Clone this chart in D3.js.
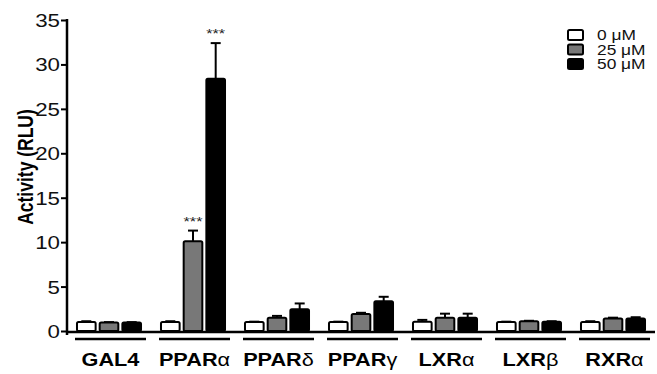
<!DOCTYPE html>
<html>
<head>
<meta charset="utf-8">
<script src="https://cdn.jsdelivr.net/npm/d3@7"></script>
<style>
  body { margin: 0; background: #fff; }
  svg { display: block; font-family: "Liberation Sans", Arial, sans-serif; }
</style>
</head>
<body>
<script>
// receptor groups (name + greek suffix)
const receptors = ["GAL4", "PPAR", "PPAR", "PPAR", "LXR", "LXR", "RXR"];
const greek = ["", "\u03b1", "\u03b4", "\u03b3", "\u03b1", "\u03b2", "\u03b1"];
const doses = ["0 \u03bcM", "25 \u03bcM", "50 \u03bcM"];

// mean activity (RLU) per dose
const mean0  = [1.0, 1.0, 1.0, 1.0, 1.05, 1.0, 1.0];
const mean25 = [0.95, 10.1, 1.5, 1.9, 1.5, 1.1, 1.4];
const mean50 = [0.95, 28.4, 2.45, 3.35, 1.5, 1.05, 1.4];
// error (upper) per dose
const err0  = [0.1, 0.1, 0.05, 0.05, 0.2, 0.05, 0.1];
const err25 = [0.05, 1.2, 0.2, 0.15, 0.45, 0.05, 0.1];
const err50 = [0.05, 4.0, 0.65, 0.5, 0.45, 0.05, 0.15];
// significance marks
const sig25 = ["", "***", "", "", "", "", ""];
const sig50 = ["", "***", "", "", "", "", ""];

const yTicks = [0, 5, 10, 15, 20, 25, 30, 35];

const W = 657, H = 374;
const sx = 1.24; // the figure is stretched horizontally
const fills = ["#ffffff", "#787878", "#000000"];

const svg = d3.select("body").append("svg")
  .attr("width", W).attr("height", H);

const yScale = d3.scaleLinear().domain([0, 35]).range([331, 20]);
const xGroup = d3.scaleBand()
  .domain(d3.range(receptors.length))
  .range([67, 655])
  .paddingInner(0.214)
  .paddingOuter(0.107);
const xDose = d3.scaleBand()
  .domain(d3.range(doses.length))
  .range([0, xGroup.bandwidth()])
  .paddingInner(0.09);

const means = [mean0, mean25, mean50];
const errs = [err0, err25, err50];
const sigs = [null, sig25, sig50];

const rows = [];
receptors.forEach((r, i) => {
  doses.forEach((d, j) => {
    rows.push({ g: i, dose: j, v: means[j][i], e: errs[j][i], s: sigs[j] ? sigs[j][i] : "" });
  });
});

// error bars
const eb = svg.append("g").attr("stroke", "#000").attr("stroke-width", 2);
rows.forEach(d => {
  const cx = xGroup(d.g) + xDose(d.dose) + xDose.bandwidth() / 2;
  eb.append("line").attr("x1", cx).attr("x2", cx)
    .attr("y1", yScale(d.v)).attr("y2", yScale(d.v + d.e));
  eb.append("line").attr("x1", cx - 5).attr("x2", cx + 5)
    .attr("y1", yScale(d.v + d.e)).attr("y2", yScale(d.v + d.e));
});

// bars
svg.append("g").selectAll("rect")
  .data(rows)
  .enter().append("rect")
  .attr("x", d => xGroup(d.g) + xDose(d.dose) + 1)
  .attr("y", d => yScale(d.v))
  .attr("width", xDose.bandwidth() - 2)
  .attr("height", d => yScale(0) - yScale(d.v))
  .attr("rx", 1.5)
  .attr("fill", d => fills[d.dose])
  .attr("stroke", "#000")
  .attr("stroke-width", 2);

// significance stars
rows.filter(d => d.s).forEach(d => {
  const cx = xGroup(d.g) + xDose(d.dose) + xDose.bandwidth() / 2;
  svg.append("text")
    .attr("transform", `translate(${cx},${yScale(d.v + d.e) - 5}) scale(${sx},1)`)
    .attr("text-anchor", "middle")
    .attr("font-size", 13)
    .attr("fill", "#222")
    .text(d.s);
});

// y axis
const yAxis = svg.append("g")
  .attr("transform", "translate(67,0)")
  .call(d3.axisLeft(yScale).tickValues(yTicks).tickSize(6).tickPadding(0));
yAxis.select(".domain").remove();
yAxis.selectAll(".tick line").attr("stroke-width", 2);
yAxis.selectAll(".tick text")
  .attr("x", -7 / sx)
  .attr("dy", "0.36em")
  .attr("transform", `scale(${sx},1)`)
  .attr("font-size", 18)
  .attr("font-family", "Liberation Sans, Arial, sans-serif")
  .attr("fill", "#111");
svg.append("line")
  .attr("x1", 67).attr("x2", 67)
  .attr("y1", yScale(35) - 1).attr("y2", 335)
  .attr("stroke", "#000").attr("stroke-width", 2.5);

// x axis baseline
svg.append("line")
  .attr("x1", 66).attr("x2", 655)
  .attr("y1", yScale(0) + 1).attr("y2", yScale(0) + 1)
  .attr("stroke", "#000").attr("stroke-width", 2.5);

// group underlines and labels
receptors.forEach((r, i) => {
  const c = xGroup(i) + xGroup.bandwidth() / 2 + 1.5;
  svg.append("line")
    .attr("x1", c - 35.5).attr("x2", c + 35.5)
    .attr("y1", 339).attr("y2", 339)
    .attr("stroke", "#000").attr("stroke-width", 2.5);
  const t = svg.append("text")
    .attr("transform", `translate(${c},366) scale(${sx},1)`)
    .attr("text-anchor", "middle")
    .attr("font-size", 17.5)
    .attr("font-weight", "bold")
    .attr("fill", "#000");
  t.append("tspan").text(r);
  if (greek[i]) t.append("tspan").attr("font-weight", "normal").text(greek[i]);
});

// y axis title
svg.append("text")
  .attr("transform", `translate(33,167) scale(${sx},1) rotate(-90)`)
  .attr("text-anchor", "middle")
  .attr("font-size", 17.5)
  .attr("font-weight", "bold")
  .text("Activity (RLU)");

// legend
const leg = svg.append("g");
doses.forEach((d, j) => {
  const y = 30 + j * 14.5;
  leg.append("rect")
    .attr("x", 568).attr("y", y)
    .attr("width", 15).attr("height", 10)
    .attr("rx", 1.5)
    .attr("fill", fills[j]).attr("stroke", "#000").attr("stroke-width", 2);
  leg.append("text")
    .attr("transform", `translate(597,${y + 10}) scale(${sx},1)`)
    .attr("font-size", 14)
    .attr("fill", "#111")
    .text(d);
});
</script>
</body>
</html>
